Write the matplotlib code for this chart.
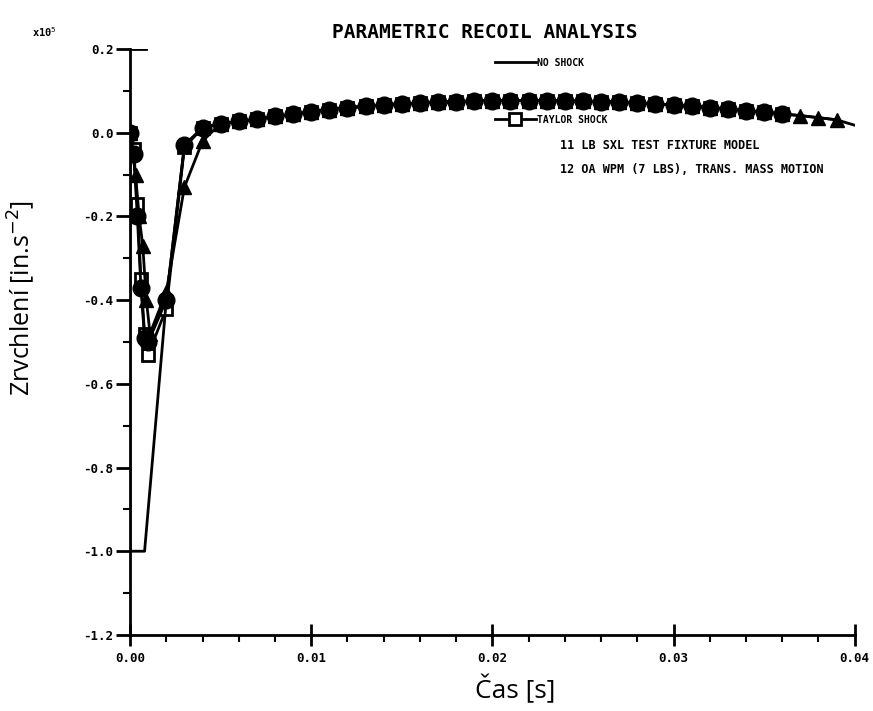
import numpy as np
import matplotlib
matplotlib.use("Agg")
import matplotlib.pyplot as plt
from matplotlib.ticker import MultipleLocator, FormatStrFormatter

# time axis [s]
t_dip = [0.0, 0.0002, 0.0004, 0.0006, 0.0008, 0.001, 0.002, 0.003]
t_tail = [0.004, 0.005, 0.006, 0.007, 0.008, 0.009, 0.010, 0.011, 0.012, 0.013,
          0.014, 0.015, 0.016, 0.017, 0.018, 0.019, 0.020, 0.021, 0.022, 0.023,
          0.024, 0.025, 0.026, 0.027, 0.028, 0.029, 0.030, 0.031, 0.032, 0.033,
          0.034, 0.035, 0.036, 0.037, 0.038, 0.039]
tail = [0.012, 0.022, 0.027, 0.032, 0.039, 0.044, 0.050, 0.055, 0.060, 0.063,
        0.067, 0.069, 0.071, 0.073, 0.074, 0.076, 0.077, 0.077, 0.077, 0.077,
        0.076, 0.075, 0.074, 0.073, 0.071, 0.069, 0.066, 0.063, 0.060, 0.057,
        0.053, 0.049, 0.045, 0.041, 0.036, 0.031]

# no shock
t_none = [0.0, 0.0, 0.0008, 0.002, 0.003] + t_tail + [0.040]
v_none = [0.0, -1.0, -1.0, -0.40, -0.03] + tail + [0.018]

# taylor shock (squares)
v_taylor = [0.0, -0.04, -0.17, -0.35, -0.48, -0.53, -0.42, -0.035]
# 11 lb sxl fixture (circles)
v_fixture = [0.0, -0.05, -0.20, -0.37, -0.49, -0.50, -0.40, -0.03]
# 12 oa wpm (triangles)
t_wpm = [0.0, 0.0003, 0.0005, 0.0007, 0.0009, 0.0011, 0.002, 0.003, 0.004]
v_wpm = [0.0, -0.10, -0.20, -0.27, -0.40, -0.48, -0.38, -0.13, -0.02]

n_circ = 33  # circles / squares stop at 0.036 s

fig = plt.figure(figsize=(8.73, 7.11), dpi=100)
ax = fig.add_axes([0.149, 0.107, 0.830, 0.824])

mono = {'family': 'DejaVu Sans Mono', 'weight': 'bold'}

l_none, = ax.plot(t_none, v_none, color='black', lw=2.0, zorder=5)
l_taylor, = ax.plot(t_dip + t_tail[:n_circ], v_taylor + tail[:n_circ], color='black',
                    lw=2.0, marker='s', ms=8, mfc='white', mec='black', mew=2, zorder=2)
ax.plot(t_wpm + t_tail[1:], v_wpm + tail[1:], color='black', lw=2.0,
        marker='^', ms=10, mfc='black', mec='black', zorder=3)
ax.plot(t_dip + t_tail[:n_circ], v_fixture + tail[:n_circ], color='black', lw=2.0,
        marker='o', ms=12, mfc='black', mec='black', zorder=4)

ax.set_xlim(0, 0.04)
ax.set_ylim(-1.2, 0.2)
ax.spines['top'].set_visible(False)
ax.spines['right'].set_visible(False)
ax.spines['left'].set_linewidth(2)
ax.spines['bottom'].set_linewidth(2)

ax.xaxis.set_major_locator(MultipleLocator(0.01))
ax.xaxis.set_minor_locator(MultipleLocator(0.002))
ax.yaxis.set_major_locator(MultipleLocator(0.2))
ax.yaxis.set_minor_locator(MultipleLocator(0.1))
ax.xaxis.set_major_formatter(FormatStrFormatter('%.2f'))
ax.yaxis.set_major_formatter(FormatStrFormatter('%.1f'))
ax.tick_params(axis='x', which='major', direction='inout', length=16, width=2, pad=4)
ax.tick_params(axis='x', which='minor', direction='out', length=5, width=1.5)
ax.tick_params(axis='y', which='major', direction='out', length=10, width=2, pad=2)
ax.tick_params(axis='y', which='minor', direction='out', length=5, width=1.5)
for lab in ax.get_xticklabels() + ax.get_yticklabels():
    lab.set_fontfamily('DejaVu Sans Mono')
    lab.set_fontweight('bold')
    lab.set_fontsize(9)
ax.axhline(0.2, xmin=0, xmax=0.022, color='black', lw=2)

ax.text(-0.135, 1.02, 'x10$^5$', transform=ax.transAxes, fontsize=7.5, **mono)
ax.set_title('PARAMETRIC RECOIL ANALYSIS', fontsize=14, pad=8, x=0.49, **mono)

leg = ax.legend([l_none, l_taylor], ['NO SHOCK', 'TAYLOR SHOCK'],
                loc='upper left', bbox_to_anchor=(0.503, 0.985), frameon=False,
                borderpad=0, borderaxespad=0, handlelength=4.3, handletextpad=0.1,
                labelspacing=4.8, prop={'family': 'DejaVu Sans Mono',
                                        'weight': 'bold', 'size': 7})
ax.text(0.593, 0.836, '11 LB SXL TEST FIXTURE MODEL', transform=ax.transAxes,
        fontsize=8.5, va='center', **mono)
ax.text(0.593, 0.794, '12 OA WPM (7 LBS), TRANS. MASS MOTION', transform=ax.transAxes,
        fontsize=8.5, va='center', **mono)

ax.set_xlabel('Čas [s]', fontsize=19, family='Open Sans')
ax.xaxis.set_label_coords(0.532, -0.068)
ax.set_ylabel('Zrvchlení [in.s$^{-2}$]', fontsize=18, family='Open Sans')
ax.yaxis.set_label_coords(-0.128, 0.575)

fig.savefig('out.png', dpi=100)
